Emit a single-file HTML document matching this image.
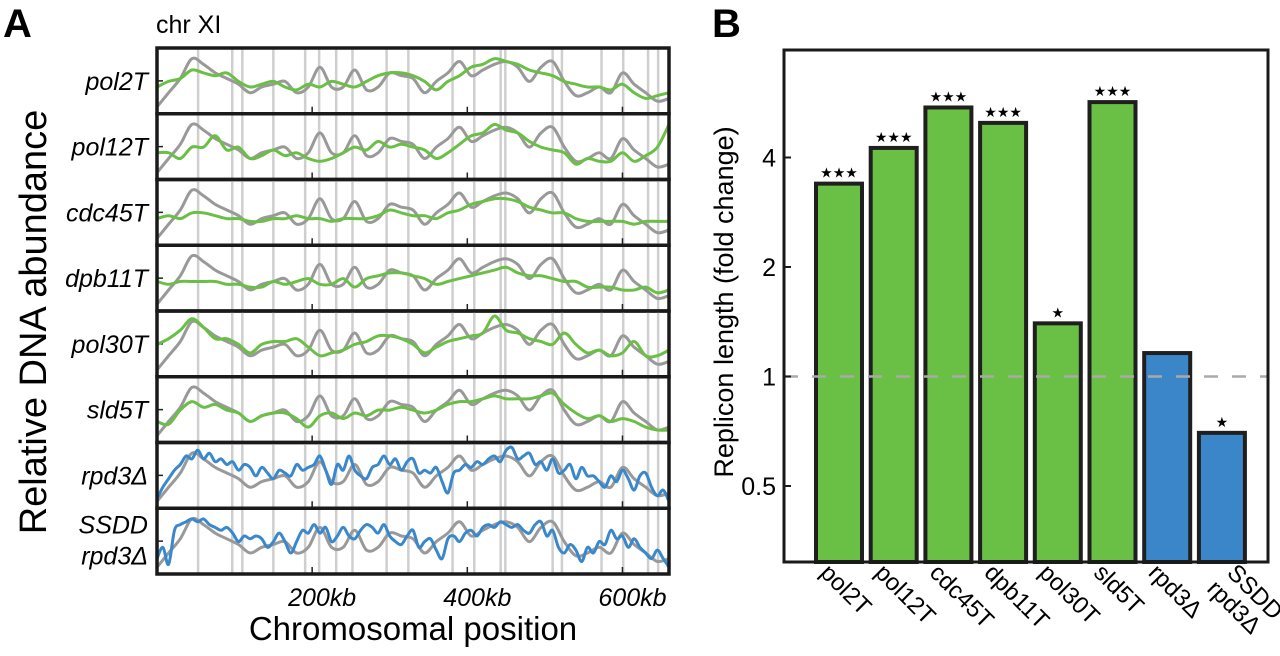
<!DOCTYPE html>
<html><head><meta charset="utf-8"><style>
html,body{margin:0;padding:0;background:#fff;}
svg{display:block;font-family:"Liberation Sans",sans-serif;}
</style></head><body>
<svg id="fig" width="1280" height="656" viewBox="0 0 1280 656" xmlns="http://www.w3.org/2000/svg">
<text x="3" y="37" font-size="40" font-weight="bold">A</text>
<text x="156" y="33" font-size="25">chr XI</text>
<text x="712" y="37" font-size="40" font-weight="bold">B</text>
<text transform="translate(46,322) rotate(-90)" text-anchor="middle" font-size="38">Relative DNA abundance</text>
<text x="413" y="640" text-anchor="middle" font-size="33">Chromosomal position</text>
<text transform="translate(733,302) rotate(-90)" text-anchor="middle" font-size="27">Replicon length (fold change)</text>
<g id="ga"></g><g id="gb"></g>
</svg>
<script>
// ---------- Panel A data ----------
const trackNames = ["pol2T","pol12T","cdc45T","dpb11T","pol30T","sld5T","rpd3Δ","SSDD|rpd3Δ"];
const origins = [53,97,110,150,191,209,231,252,296,324,381,409,443,449,510,522,573,601,633,646];
const xTicks = [200,400,600];
const xTickLabels = ["200kb","400kb","600kb"];
const wtGray = [0.5,3,5.5,9,8,6.5,5.5,4.5,3,4,4.5,5,3,4,7.5,4,4,7,3.5,4,6.5,6,5.5,3,5,6.5,8.5,6,7,8,8.5,7.5,5,7.5,8.5,5,2.5,3,4,3,6.5,4.5,3,1.5,2];
const pol2T = [4,5,5.5,7,6.5,6,6.5,5,4,4.5,5,4,3.5,4.5,4,5,4.5,4,5,6,6.5,6.5,6,5,3.5,5,6,7.5,8,9,8.5,8,7,6.5,6,5,4.5,4,4,3.5,4.5,3,2,2.5,3];
const pol12T = [4,4,3,5,5,7,4.5,5,3,3.5,4.5,3.5,4,3,2.5,3,4,5,4.5,6,5,5.5,5,4.5,3,4,5.5,7,7.5,9,8,7.5,6,5,4.5,4,2,3,2.5,2.5,4,2.5,3.5,5,9];
const cdc45T = [4,4.5,4,5,5,4.5,4,4,3.5,3.5,4,4,4.5,4,4,3.5,4,4,4,4.5,5.5,5,4.5,4.5,4,5,5.5,6.5,7,7.5,7.5,7,6,5.5,5,5,4,3.5,3.5,3.5,3.5,3,3.5,3.5,3.5];
const dpb11T = [4.5,4,4.5,4.5,4.5,4.5,4,4,3.5,3.5,4.5,4,4.5,5,4,4,5,3.5,5,5.5,6,6,5.5,5,4,4.5,5,5.5,6,6.5,7,6,5.5,5.5,5,4.5,4.5,3.5,3.5,3.5,3,3,3.5,2.5,3];
const pol30T = [5,6,7.5,9.5,8,6,6,5,3.5,5,5.5,5.5,6,4.5,3,3.5,4,5,5.5,6.5,6.5,6,5,3.5,4.5,5.5,6,6.5,7,10,7.5,7,6,5.5,5,7,5,3.5,4,3,3.5,5.5,3,3,4];
const sld5T = [3,2.5,5,6.5,5.5,6,5,4.5,3,4,4.5,4.5,3.5,2,4,4.5,3.5,4.5,4,5,5,5.5,5,4.5,5,6,6.5,6.5,7,7.5,7,7,7,7.5,8,6,4.5,3.5,4,3,3.5,3,2,1.5,1.5];
const rpd3 = [1,3,4.5,6,7,8.5,8,9.5,8,9,7.5,8,7,7.5,6,7,6.5,5,6.5,5.5,4.5,6,5.5,5,7,6,6.5,7,8.5,6,3.5,7,6,8.5,6,5,4.5,6.5,7,8.5,7,8,6,7.5,8,5.5,6,5.5,6.5,4,2,5.5,6,7,6.5,7.5,7,8,8.5,7.5,9.5,10,8,8.5,9,7,7.5,6,8,5.5,6,7,4.5,6.5,5,5,4,3,5,4,6,4.5,2.5,5,5.5,3,1.5,2.5,0.5];
const ssddRpd3 = [2,4,1,7,8,8.5,9,8.5,9,8,7.5,7,7.5,6.5,5,6,5.5,6,5.5,4,5,6.5,5,3,5,7,6.5,8,6.5,7.5,5,6,7.5,6,5.5,7,8,7.5,6.5,8,6,5,4.5,6,7,4,5,5.5,3.5,2,5.5,6,5,6.5,7,6,7.5,8,7.5,8.5,8,7.5,8,7,6.5,8,8.5,6,7,4,3,4.5,3.5,1.5,4,3,5,4.5,7,5.5,6,4,5.5,4,3,2,3.5,2,0.5];
const trackSeries = [pol2T,pol12T,cdc45T,dpb11T,pol30T,sld5T,rpd3,ssddRpd3];
// ---------- Panel B data ----------
const categories = ["pol2T","pol12T","cdc45T","dpb11T","pol30T","sld5T","rpd3Δ","SSDD|rpd3Δ"];
const foldChange = [3.39,4.25,5.49,4.98,1.40,5.68,1.16,0.70];
const significance = ["★★★","★★★","★★★","★★★","★","★★★","","★"];
const yTickValues = [0.5,1,2,4];
const yTickLabels = ["0.5","1","2","4"];

const NS="http://www.w3.org/2000/svg";
function mk(tag,attrs,parent){const e=document.createElementNS(NS,tag);for(const k in attrs)e.setAttribute(k,attrs[k]);parent.appendChild(e);return e;}
function smooth(pts){
  let d='M'+pts[0][0].toFixed(1)+','+pts[0][1].toFixed(1);
  for(let i=0;i<pts.length-1;i++){
    const p0=pts[Math.max(0,i-1)],p1=pts[i],p2=pts[i+1],p3=pts[Math.min(pts.length-1,i+2)];
    const c1x=p1[0]+(p2[0]-p0[0])/6,c1y=p1[1]+(p2[1]-p0[1])/6;
    const c2x=p2[0]-(p3[0]-p1[0])/6,c2y=p2[1]-(p3[1]-p1[1])/6;
    d+=' C'+c1x.toFixed(1)+','+c1y.toFixed(1)+' '+c2x.toFixed(1)+','+c2y.toFixed(1)+' '+p2[0].toFixed(1)+','+p2[1].toFixed(1);
  }
  return d;
}

// Panel A
const ga=document.getElementById('ga');
const AX0=157, AX1=669, KBMAX=660, PT=48, PH=65.75;
function xA(kb){return AX0+kb*(AX1-AX0)/KBMAX;}
trackNames.forEach((name,i)=>{
  const top=PT+i*PH, bot=top+PH;
  const g=mk('g',{},ga);
  
  
  const yv=v=>bot-4-v/10*(PH-9);
  origins.forEach(o=>{
    const l=mk('line',{x1:xA(o),x2:xA(o),y1:top,y2:bot,stroke:'#cfcfcf','stroke-width':2.5},g);
    
    
  });
  xTicks.forEach(t=>{
    const l=mk('line',{x1:xA(t),x2:xA(t),y1:bot-7,y2:bot,stroke:'#222','stroke-width':1.5},g);
    
    
  });
  const yt=mk('line',{x1:AX0,x2:AX0+6,y1:(top+bot)/2,y2:(top+bot)/2,stroke:'#222','stroke-width':1.5},g);
  
  
  const step=KBMAX/(wtGray.length-1);
  const gpts=wtGray.map((v,k)=>[xA(k*step),yv(v)]);
  const gl=mk('path',{d:smooth(gpts),fill:'none',stroke:'#999','stroke-width':3,'stroke-linejoin':'round'},g);
  
  
  const s=trackSeries[i];
  const st=KBMAX/(s.length-1);
  const spts=s.map((v,k)=>[xA(k*st),yv(v)]);
  const sl=mk('path',{d:smooth(spts),fill:'none',stroke:i<6?'#6abf45':'#3a88cc','stroke-width':3,'stroke-linejoin':'round'},g);
  
  
  const r=mk('rect',{x:AX0,y:top,width:AX1-AX0,height:PH,fill:'none',stroke:'#1a1a1a','stroke-width':3.5},g);
  
  
  const parts=name.split('|');
  if(parts.length===1){
    const t=mk('text',{x:148,y:(top+bot)/2+9,'text-anchor':'end','font-size':25,'font-style':'italic'},g);
    t.textContent=parts[0];
    
    
  } else {
    parts.forEach((p,j)=>{
      const t=mk('text',{x:148,y:top+25+j*31,'text-anchor':'end','font-size':25,'font-style':'italic'},g);
      t.textContent=p;
      
      
    });
  }
});
xTicks.forEach((t,k)=>{
  const tx=mk('text',{x:xA(t)+10,y:606,'text-anchor':'middle','font-size':25,'font-style':'italic'},ga);
  tx.textContent=xTickLabels[k];
  
  
});

// Panel B
const gb=document.getElementById('gb');
const BX0=784,BX1=1268,BT=50,BB=562;
function yB(v){return 376.5-Math.log2(v)*109.5;}
const bw=46, first=839, gap=54.7;
categories.forEach((c,i)=>{
  const cx=first+i*gap, v=foldChange[i];
  const b=mk('rect',{x:cx-bw/2,y:yB(v),width:bw,height:BB-yB(v),fill:i<6?'#6abf45':'#3a86c8',stroke:'#1f1f1f','stroke-width':4},gb);
  
  
  if(significance[i]){
    const s=mk('text',{x:cx,y:yB(v)-6,'text-anchor':'middle','font-size':14},gb);
    s.textContent=significance[i];
    
    
  }
  const parts=c.split('|');
  const ox=parts.length>1?cx+4:cx-20;
  parts.forEach((p,j)=>{
    const t=mk('text',{transform:'translate('+(ox-j*20)+','+(574+j*16)+') rotate(45)','font-size':24},gb);
    t.textContent=p;
    
    
  });
});
const dash=mk('line',{x1:BX0,x2:BX1,y1:yB(1),y2:yB(1),stroke:'#aaa','stroke-width':2.5,'stroke-dasharray':'14 14'},gb);


const frame=mk('rect',{x:BX0,y:BT,width:BX1-BX0,height:BB-BT,fill:'none',stroke:'#1a1a1a','stroke-width':3},gb);


yTickValues.forEach((v,k)=>{
  const l=mk('line',{x1:BX0,x2:BX0+7,y1:yB(v),y2:yB(v),stroke:'#1a1a1a','stroke-width':2},gb);
  
  
  const t=mk('text',{x:BX0-8,y:yB(v)+9,'text-anchor':'end','font-size':25},gb);
  t.textContent=yTickLabels[k];
  
  
});
</script>
</body></html>
